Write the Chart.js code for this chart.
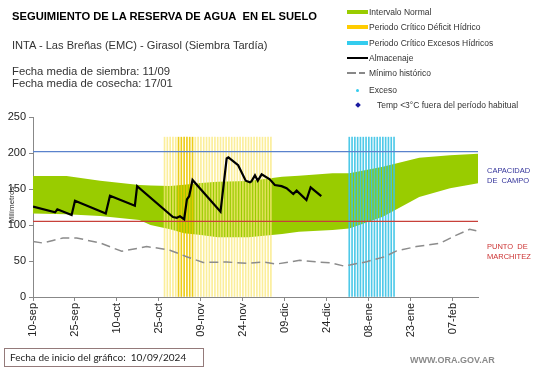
<!DOCTYPE html>
<html>
<head>
<meta charset="utf-8">
<script src="https://cdn.jsdelivr.net/npm/chart.js@4.4.1/dist/chart.umd.min.js"></script>
<style>
  body { margin: 0; background: #fff; }
  #wrap { position: relative; width: 541px; height: 368px; overflow: hidden;
          font-family: "Liberation Sans", Arial, sans-serif; color: #222; }
  #chart { position: absolute; left: 0; top: 0; }
  .t { position: absolute; white-space: nowrap; line-height: 1; }
  .leg { position: absolute; left: 347px; height: 12px; display: flex; align-items: center;
         font-size: 8.5px; color: #333; white-space: nowrap; }
  .sw { width: 21px; margin-right: 1px; }
</style>
</head>
<body>
<div id="wrap">
  <canvas id="chart" width="541" height="368"></canvas>

  <div class="t" style="left:12px; top:11px; font-size:11.2px; font-weight:bold; color:#000;">SEGUIMIENTO DE LA RESERVA DE AGUA&nbsp; EN EL SUELO</div>
  <div class="t" style="left:12px; top:40px; font-size:11.1px; color:#333;">INTA - Las Breñas (EMC) - Girasol (Siembra Tardía)</div>
  <div class="t" style="left:12px; top:66px; font-size:11.3px; color:#333;">Fecha media de siembra: 11/09</div>
  <div class="t" style="left:12px; top:77.5px; font-size:11.3px; color:#333;">Fecha media de cosecha: 17/01</div>

  <!-- leyenda -->
  <div class="leg" style="top:6px;"><span class="sw" style="height:4px;background:#99cc00;"></span>Intervalo Normal</div>
  <div class="leg" style="top:21px;"><span class="sw" style="height:4px;background:#ffcc00;"></span>Periodo Crítico Déficit Hídrico</div>
  <div class="leg" style="top:37px;"><span class="sw" style="height:4px;background:#33ccee;"></span>Periodo Crítico Excesos Hídricos</div>
  <div class="leg" style="top:52px;"><span class="sw" style="height:2px;background:#000;"></span>Almacenaje</div>
  <div class="leg" style="top:67px;"><span style="width:9px;height:1.5px;background:#888;margin-right:3px;"></span><span style="width:6px;height:1.5px;background:#888;margin-right:4px;"></span>Mínimo histórico</div>
  <div class="leg" style="top:84px;"><span style="width:3px;height:3px;border-radius:50%;background:#33ccee;margin:0 10px 0 9px;"></span>Exceso</div>
  <div class="leg" style="top:99px;"><span style="width:4px;height:4px;background:#1a1aa0;transform:rotate(45deg);margin:0 17px 0 9px;"></span>Temp &lt;3°C fuera del período habitual</div>

  <!-- titulo eje y -->
  <div class="t" style="left:-8px; top:201px; font-size:8px; color:#333; transform:rotate(-90deg); width:40px; text-align:center;">Milímetros</div>

  <!-- rótulos derecha -->
  <div class="t" style="left:487px; top:166px; font-size:7.5px; color:#33339a; line-height:9.5px;">CAPACIDAD<br>DE&nbsp; CAMPO</div>
  <div class="t" style="left:487px; top:242px; font-size:7.5px; color:#cc3333; line-height:9.5px;">PUNTO&nbsp; DE<br>MARCHITEZ</div>

  <div class="t" style="left:4px; top:348px; width:200px; height:19px; border:1px solid #947a7a; box-sizing:border-box; font-family:Lato, sans-serif; font-size:10px; line-height:17px; padding-left:5px; color:#222;">Fecha de inicio del gráfico:&nbsp; 10/09/2024</div>
  <div class="t" style="left:410px; top:356px; font-size:9px; font-weight:bold; color:#8a8a8a;">WWW.ORA.GOV.AR</div>
</div>

<script>
// días desde el 10-sep
const tickDays = [0, 15, 30, 45, 60, 75, 90, 105, 120, 135, 150];
const tickLabels = ['10-sep', '25-sep', '10-oct', '25-oct', '09-nov', '24-nov', '09-dic', '24-dic', '08-ene', '23-ene', '07-feb'];

// intervalo normal (límites superior e inferior)
const bandDays  = [0, 12, 24, 38, 42, 49, 54, 60, 66, 77, 89, 95, 107, 113, 125, 138, 149, 159];
const bandUpper = [168, 168, 161.5, 155.5, 155, 154, 156, 158.5, 160, 161, 167, 168.5, 172, 172, 181, 193.5, 197, 199];
const bandLower = [116, 115, 112.5, 107, 100, 94, 88.5, 86, 83, 83, 87.5, 90.7, 93, 95, 111.5, 139, 151, 158];

// almacenaje
const storeDays = [0, 7.9, 8.7, 13.8, 15, 26, 27.5, 36.4, 37.2, 50, 51.4, 52.5, 54, 55, 55.8, 57, 67, 69.2, 69.8, 73.3, 76, 77.5, 78, 79.3, 80.3, 81.7, 84.6, 86.4, 88.8, 90.6, 93, 94.2, 97.7, 99.2, 103];
const storeVals = [125.5, 117.6, 121.8, 113.9, 133.8, 116, 140.7, 126.8, 154, 111, 110, 112, 108, 135.6, 140, 162.5, 118.5, 192.6, 194, 183, 161.5, 159.3, 160.5, 169, 161.5, 170.4, 163.4, 155.5, 154, 151, 143, 147.7, 134.7, 152.3, 140];

// mínimo histórico
const minDays = [0, 3.5, 7.1, 10.7, 15.6, 24, 31.7, 40.6, 45.4, 48.9, 54.9, 60.8, 69.2, 76.3, 82.2, 87, 95.3, 101.8, 106, 111.1, 113.2, 119.2, 125.7, 129.9, 137, 145.4, 151.3, 156, 158.4];
const minVals = [77, 75, 78.5, 82, 82, 75, 63.5, 70, 67.5, 65, 56, 48, 48.6, 46.8, 48.6, 45.8, 51, 48.6, 47.7, 43, 44.4, 49, 56, 64, 70, 74.5, 86, 94, 92];

// periodos críticos
const deficitDays = [47, 48, 49, 50, 51, 52, 53, 54, 55, 56, 57, 58, 59, 60, 61, 62, 63, 64, 65, 66, 67, 68, 69, 70, 71, 72, 73, 74, 75, 76, 77, 78, 79, 80, 81, 82, 83, 84, 85];
const deficitStrong = [52, 53, 54, 55, 56, 57];
const excessDays = [113, 114, 115, 116, 117, 118, 119, 120, 121, 122, 123, 124, 125, 126, 127, 128, 129];
const periodTop = 222;

const fieldCapacity = 202;
const wiltingPoint = 105;
const xMax = 159;

function pts(xs, ys) {
    return xs.map((x, i) => ({ x: x, y: ys[i] }));
}

const ctx = document.getElementById('chart').getContext('2d');
new Chart(ctx, {
    type: 'line',
    data: {
        datasets: [
            {
                data: pts(bandDays, bandUpper),
                borderWidth: 0,
                pointRadius: 0,
                fill: '+1',
                backgroundColor: '#99cc00',
                order: 10
            },
            {
                data: pts(bandDays, bandLower),
                borderWidth: 0,
                pointRadius: 0,
                fill: false,
                order: 10
            },
            {
                type: 'bar',
                data: deficitDays.map(d => ({ x: d, y: periodTop })),
                backgroundColor: deficitDays.map(d => deficitStrong.includes(d) ? 'rgba(235,200,0,0.9)' : 'rgba(250,232,120,0.75)'),
                barThickness: 1,
                grouped: false,
                order: 8
            },
            {
                type: 'bar',
                data: excessDays.map(d => ({ x: d, y: periodTop })),
                backgroundColor: 'rgba(60,195,230,0.9)',
                barThickness: 1,
                grouped: false,
                order: 8
            },
            {
                data: [{ x: 0, y: fieldCapacity }, { x: xMax, y: fieldCapacity }],
                borderColor: '#5a82cc',
                borderWidth: 1.3,
                pointRadius: 0,
                order: 5
            },
            {
                data: [{ x: 0, y: wiltingPoint }, { x: xMax, y: wiltingPoint }],
                borderColor: '#c8403a',
                borderWidth: 1.3,
                pointRadius: 0,
                order: 5
            },
            {
                data: pts(minDays, minVals),
                borderColor: '#8c8c8c',
                borderWidth: 1.5,
                borderDash: [9, 5],
                pointRadius: 0,
                order: 3
            },
            {
                data: pts(storeDays, storeVals),
                borderColor: '#000',
                borderWidth: 2.2,
                pointRadius: 0,
                order: 1
            }
        ]
    },
    options: {
        responsive: false,
        animation: false,
        layout: {
            padding: { left: 0, top: 117, right: 63, bottom: 0 }
        },
        plugins: {
            legend: { display: false },
            tooltip: { enabled: false }
        },
        scales: {
            x: {
                type: 'linear',
                min: 0,
                max: xMax,
                offset: false,
                afterFit: function(scale) { scale.height = 71; },
                afterBuildTicks: function(scale) {
                    scale.ticks = tickDays.map(v => ({ value: v }));
                },
                grid: {
                    offset: false,
                    drawOnChartArea: false,
                    drawTicks: true,
                    tickLength: 4,
                    color: '#888'
                },
                border: { color: '#888' },
                ticks: {
                    maxRotation: 90,
                    minRotation: 90,
                    padding: 2,
                    color: '#222',
                    font: { family: '"Liberation Sans", Arial', size: 11 },
                    callback: function(value) {
                        const i = tickDays.indexOf(value);
                        return i >= 0 ? tickLabels[i] : '';
                    }
                }
            },
            y: {
                min: 0,
                max: 250,
                afterFit: function(scale) { scale.width = 33; },
                grid: {
                    drawOnChartArea: false,
                    drawTicks: true,
                    tickLength: 4,
                    color: '#888'
                },
                border: { color: '#888' },
                ticks: {
                    stepSize: 50,
                    padding: 3,
                    color: '#222',
                    font: { family: '"Liberation Sans", Arial', size: 11 }
                }
            }
        }
    }
});
</script>
</body>
</html>
